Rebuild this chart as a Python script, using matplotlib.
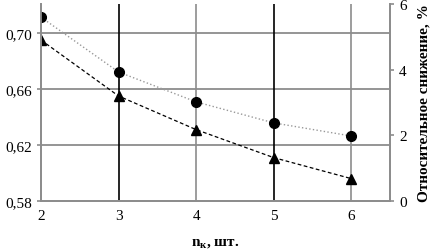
import matplotlib.pyplot as plt

plt.rcParams['font.family'] = ['Liberation Serif', 'DejaVu Serif']
plt.rcParams['mathtext.fontset'] = 'custom'
plt.rcParams['mathtext.rm'] = 'Liberation Serif:bold'
plt.rcParams['mathtext.bf'] = 'Liberation Serif:bold'

n_k = [2, 3, 4, 5, 6]
ratio = [0.695, 0.655, 0.631, 0.611, 0.596]      # triangles, left axis
decrease = [5.6, 3.93, 3.02, 2.38, 1.98]          # circles, right axis, %

y_ticks = [0.58, 0.62, 0.66, 0.70]
y_labels = ['0,58', '0,62', '0,66', '0,70']
y2_ticks = [0, 2, 4, 6]

fig = plt.figure(figsize=(4.33, 2.53), dpi=100)
ax = fig.add_axes([0.0947, 0.2016, 0.806, 0.7784])
ax2 = ax.twinx()

grey = '#8c8c8c'
for y in [0.62, 0.66, 0.70]:
    ax.axhline(y, color=grey, lw=1.3, zorder=0)
for x, c in [(3, 'black'), (4, grey), (5, 'black'), (6, grey)]:
    ax.axvline(x, color=c, lw=1.2, zorder=0)

ax.plot(n_k, ratio, ls='--', color='black', lw=0.9, marker='^', ms=7, dashes=(3, 2))
ax2.plot(n_k, decrease, ls=':', color='#999999', lw=1.0, marker='o', ms=7,
         mfc='black', mec='black')

ax.set_xlim(2, 6.5)
ax.set_ylim(0.58, 0.7207)
ax2.set_ylim(0, 6)
ax.set_xticks(n_k)
ax.set_yticks(y_ticks)
ax.set_yticklabels(y_labels)
ax2.set_yticks(y2_ticks)

for a in (ax, ax2):
    a.spines['top'].set_visible(False)
    for s in ('left', 'right', 'bottom'):
        a.spines[s].set_color(grey)
        a.spines[s].set_linewidth(1.3)
    a.tick_params(labelsize=11, color=grey, length=3, width=1.2)
ax.tick_params(axis='x', length=0, pad=6)

ax.set_xlabel('n$_{\\mathbf{к}}$, шт.', fontsize=11, fontweight='bold', labelpad=10)
ax2.set_ylabel('Относительное снижение, %', fontsize=11, fontweight='bold', labelpad=8)

fig.savefig('out.png', dpi=100)
